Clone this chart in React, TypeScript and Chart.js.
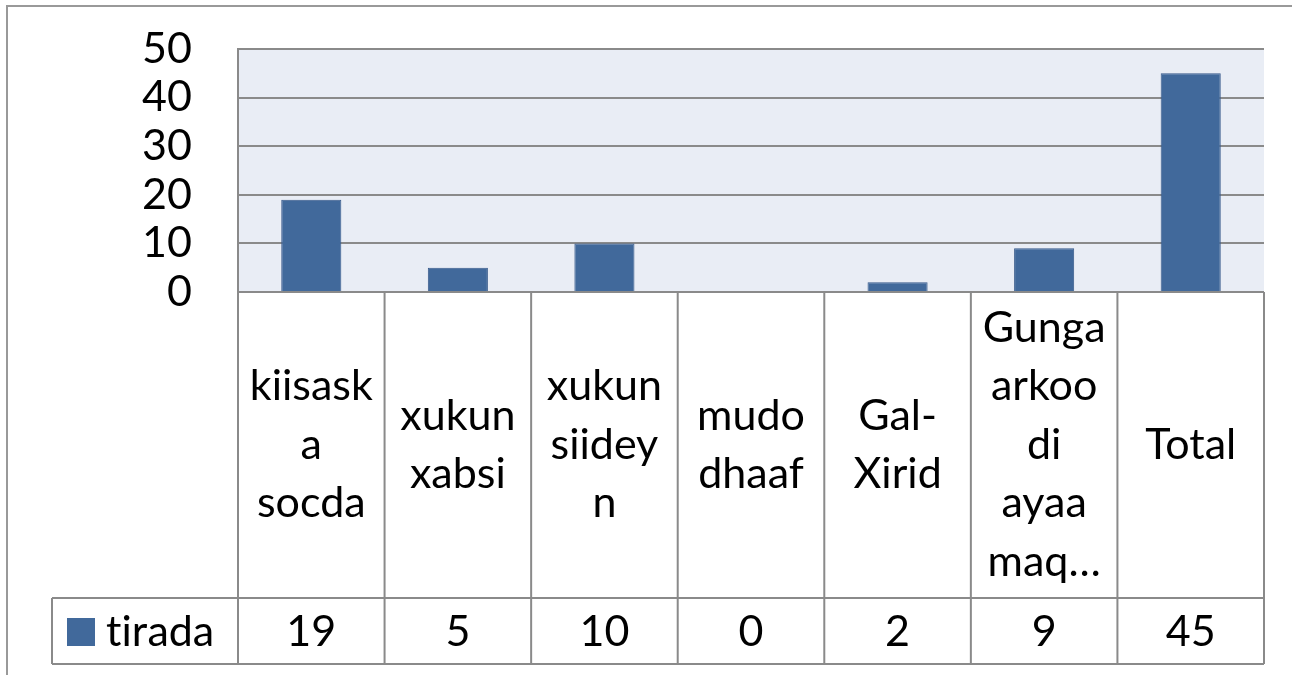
import React, { useEffect, useRef } from "react";
import { Chart, registerables } from "chart.js";

Chart.register(...registerables);

const categoryLines: string[][] = [
  ["kiisask", "a", "socda"],
  ["xukun", "xabsi"],
  ["xukun", "siidey", "n"],
  ["mudo", "dhaaf"],
  ["Gal-", "Xirid"],
  ["Gunga", "arkoo", "di", "ayaa", "maq…"],
  ["Total"],
];
const seriesName = "tirada";
const seriesValues: number[] = [19, 5, 10, 0, 2, 9, 45];
const yTicks: number[] = [0, 10, 20, 30, 40, 50];

const FONT = "Lato, 'Open Sans', sans-serif";
const FONT_SIZE = 43;
const LINE_COLOR = "#8a8a8a";
const BAR_COLOR = "#41699b";
const PLOT_BG = "#e9edf5";

// draw text char by char to avoid font ligatures (e.g. "ti")
function drawNoLig(ctx: CanvasRenderingContext2D, text: string, x: number, y: number) {
  let cx = x;
  for (const ch of text) {
    ctx.fillText(ch, cx, y);
    cx += ctx.measureText(ch).width;
  }
}

const tablePlugin = {
  id: "excelTable",
  beforeDraw(chart: any) {
    const { ctx, chartArea } = chart;
    ctx.save();
    ctx.fillStyle = "#ffffff";
    ctx.fillRect(0, 0, chart.width, chart.height);
    ctx.fillStyle = PLOT_BG;
    ctx.fillRect(chartArea.left, chartArea.top, chartArea.right - chartArea.left, chartArea.bottom - chartArea.top);
    ctx.strokeStyle = "#999999";
    ctx.lineWidth = 2;
    ctx.beginPath();
    ctx.moveTo(7, chart.height);
    ctx.lineTo(7, 6);
    ctx.lineTo(chart.width, 6);
    ctx.stroke();
    ctx.restore();
  },
  afterDraw(chart: any) {
    const { ctx, chartArea } = chart;
    const x = chart.scales.x;
    const n = categoryLines.length;
    const top = chartArea.bottom;
    const rowSplit = 598;
    const rowBottom = 664;
    const legendLeft = 52;
    const bounds: number[] = [];
    for (let i = 0; i <= n; i++) {
      bounds.push(chartArea.left + ((chartArea.right - chartArea.left) * i) / n);
    }
    ctx.save();
    ctx.strokeStyle = LINE_COLOR;
    ctx.lineWidth = 2;
    ctx.beginPath();
    bounds.forEach((b) => {
      ctx.moveTo(b, top);
      ctx.lineTo(b, rowBottom);
    });
    ctx.moveTo(legendLeft, rowSplit);
    ctx.lineTo(chartArea.right, rowSplit);
    ctx.moveTo(legendLeft, rowBottom);
    ctx.lineTo(chartArea.right, rowBottom);
    ctx.moveTo(legendLeft, rowSplit);
    ctx.lineTo(legendLeft, rowBottom);
    ctx.stroke();

    ctx.fillStyle = "#000000";
    ctx.font = `${FONT_SIZE}px ${FONT}`;
    ctx.textAlign = "center";
    ctx.textBaseline = "middle";
    const lineH = 58.5;
    const midY = (top + rowSplit) / 2;
    categoryLines.forEach((lines, i) => {
      const cx = x.getPixelForValue(i);
      const startY = midY - ((lines.length - 1) * lineH) / 2;
      lines.forEach((ln, j) => {
        ctx.fillText(ln, cx, startY + j * lineH);
      });
      ctx.fillText(String(seriesValues[i]), cx, (rowSplit + rowBottom) / 2 + 1);
    });
    ctx.fillStyle = BAR_COLOR;
    ctx.fillRect(67, 618, 28, 28);
    ctx.fillStyle = "#000000";
    ctx.textAlign = "left";
    drawNoLig(ctx, seriesName, 106, (rowSplit + rowBottom) / 2 + 1);
    ctx.restore();
  },
};

export default function App() {
  const ref = useRef<HTMLCanvasElement | null>(null);
  useEffect(() => {
    if (!ref.current) return;
    const chart = new Chart(ref.current, {
      type: "bar",
      data: {
        labels: categoryLines.map((l) => l.join(" ")),
        datasets: [
          {
            label: seriesName,
            data: seriesValues,
            backgroundColor: BAR_COLOR,
            borderColor: "#37598a",
            borderWidth: 1,
            barPercentage: 0.41,
            categoryPercentage: 1,
          },
        ],
      },
      options: {
        responsive: false,
        animation: false,
        devicePixelRatio: 1,
        layout: { padding: { left: 0, top: 49, right: 28, bottom: 383 } },
        plugins: { legend: { display: false }, tooltip: { enabled: false } },
        scales: {
          x: { display: false },
          y: {
            min: 0,
            max: 50,
            afterBuildTicks: (scale: any) => {
              scale.ticks = yTicks.map((v) => ({ value: v }));
            },
            afterFit: (scale: any) => {
              scale.width = 238;
            },
            ticks: {
              color: "#000000",
              font: { family: FONT, size: FONT_SIZE },
              padding: 0,
              autoSkip: false,
            },
            grid: {
              color: LINE_COLOR,
              lineWidth: 2,
              drawTicks: true,
              tickLength: 46,
              tickColor: "rgba(0,0,0,0)",
            },
            border: { display: true, color: LINE_COLOR, width: 2 },
          },
        },
      },
      plugins: [tablePlugin],
    });
    return () => chart.destroy();
  }, []);
  return (
    <div style={{ position: "fixed", left: 0, top: 0, width: 1292, height: 675, background: "#fff" }}>
      <canvas ref={ref} width={1292} height={675} style={{ display: "block" }} />
    </div>
  );
}
